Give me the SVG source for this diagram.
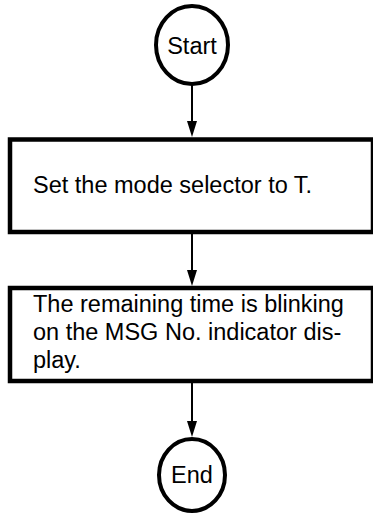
<svg xmlns="http://www.w3.org/2000/svg" width="373" height="514" viewBox="0 0 373 514">
<style>
.term{fill:#fff;stroke:#000;stroke-width:4}
.box{fill:#fff;stroke:#000;stroke-width:4.5}
.lbl{font-family:"Liberation Sans",Arial,sans-serif;font-size:23.5px;fill:#000}
.conn{stroke:#000;stroke-width:2;fill:none}
.head{fill:#000}
</style>
<g id="connectors">
<line class="conn" x1="192" y1="85" x2="192" y2="121"/>
<path class="head" d="M187,121 L197,121 L192,137 Z"/>
<line class="conn" x1="192" y1="234" x2="192" y2="270"/>
<path class="head" d="M187,270 L197,270 L192,286 Z"/>
<line class="conn" x1="192" y1="383" x2="192" y2="421"/>
<path class="head" d="M187,421 L197,421 L192,437 Z"/>
</g>
<g id="start">
<ellipse class="term" cx="192" cy="45" rx="36" ry="39"/>
<text class="lbl" x="192" y="54" text-anchor="middle">Start</text>
</g>
<g id="step1">
<rect class="box" x="10" y="139.5" width="363" height="92.5"/>
<text class="lbl" x="33" y="193">Set the mode selector to T.</text>
</g>
<g id="step2">
<rect class="box" x="10" y="288" width="363" height="93"/>
<text class="lbl" x="33" y="312">The remaining time is blinking</text>
<text class="lbl" x="33" y="340">on the MSG No. indicator dis-</text>
<text class="lbl" x="33" y="368">play.</text>
</g>
<g id="end">
<ellipse class="term" cx="192" cy="475" rx="33" ry="36"/>
<text class="lbl" x="192" y="483" text-anchor="middle">End</text>
</g>
</svg>
